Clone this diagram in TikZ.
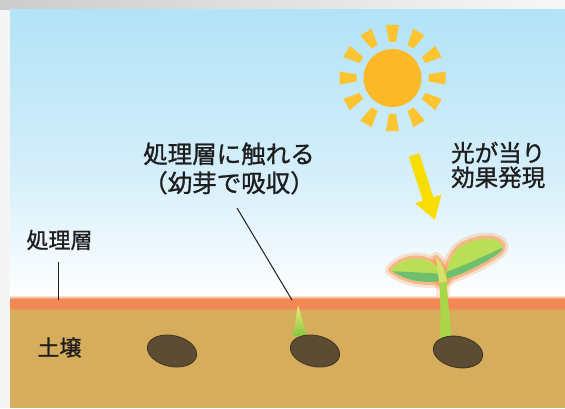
\documentclass[tikz,border=0pt]{standalone}
\usepackage{fontspec}
\newfontfamily\jp[FakeBold=1.1]{Noto Sans CJK JP}
\usetikzlibrary{arrows.meta}

\definecolor{sky}{RGB}{178,227,246}
\definecolor{skymid}{RGB}{214,239,250}
\definecolor{layer}{RGB}{242,136,84}
\definecolor{soil}{RGB}{214,173,92}
\definecolor{sunbody}{RGB}{251,185,40}
\definecolor{sunray}{RGB}{252,196,48}
\definecolor{arrowyellow}{RGB}{248,221,0}
\definecolor{seedbrown}{RGB}{92,76,52}
\definecolor{seededge}{RGB}{66,52,34}
\definecolor{leaflight}{RGB}{186,222,86}
\definecolor{leafdark}{RGB}{110,192,110}
\definecolor{stemgreen}{RGB}{170,215,72}
\definecolor{budgreen}{RGB}{214,226,110}
\definecolor{glow}{RGB}{250,150,80}
\definecolor{sprouttip}{RGB}{246,236,125}
\definecolor{sproutbase}{RGB}{132,200,62}
\definecolor{ink}{RGB}{30,30,30}

\tikzset{
  txt/.style={font=\jp, text=ink, inner sep=0pt},
  leader/.style={draw=ink, line width=1pt},
  seed/.style={fill=seedbrown, draw=seededge, line width=0.8pt},
  haloA/.style={draw=glow, line width=12pt, opacity=0.25, line join=round},
  haloB/.style={draw=glow, line width=6pt, opacity=0.55, line join=round},
  leftleaf/.style={insert path={(443,131) .. controls (438,151) and (407,157) .. (391,138)
      .. controls (405,127) and (425,124) .. (443,127.5) -- cycle}},
  rightleaf/.style={insert path={(447,129) .. controls (446,146) and (455,161) .. (467,165)
      .. controls (478,170) and (494,172) .. (501,165)
      .. controls (505,161) and (501,156) .. (496,153)
      .. controls (485,145) and (465,135) .. (447,129) -- cycle}},
  bud/.style={insert path={(439,125) .. controls (438,136) .. (436,150)
      .. controls (442,144) .. (447,127) -- cycle}},
}

\begin{document}
\begin{tikzpicture}[x=1pt,y=1pt]
\useasboundingbox (0,0) rectangle (565,408);

% paper margin
\fill[black!4] (0,0) rectangle (565,408);
\shade[left color=black!20, right color=black!3] (0,398) rectangle (565,408);

% sky
\shade[top color=sky, bottom color=skymid] (10,230) rectangle (565,398);
\shade[top color=skymid, bottom color=white] (10,110) rectangle (565,230.5);

% treated layer and soil
\shade[top color=white, bottom color=layer] (10,109) rectangle (565,113);
\fill[layer] (10,100) rectangle (565,109.5);
\fill[soil] (10,0) rectangle (565,98);
\shade[top color=layer, bottom color=soil] (10,97.5) rectangle (565,100.5);

% sun
\coordinate (sun) at (392.5,330);
\fill[sunbody] (sun) circle[radius=29];
\begin{scope}[shift={(sun)}]
  \foreach \a in {0,30,...,330}
    \fill[sunray, rotate=\a] (36,-3.5) -- (53,-6.5) -- (53,6.5) -- (36,3.5) -- cycle;
\end{scope}

% sunlight arrow
\coordinate (beamfrom) at (414,253);
\coordinate (beamto) at (435,188);
\draw[arrowyellow, line width=11pt, -{Triangle[width=26pt,length=22pt]}] (beamfrom) -- (beamto);

% seedling: glow
\path[haloA, leftleaf];
\path[haloA, rightleaf];
\path[haloA, bud];
\draw[glow, line width=14pt, opacity=0.22] (443,112) -- (443,132);
\path[haloB, leftleaf];
\path[haloB, rightleaf];
\path[haloB, bud];

% seedling: stem
\fill[stemgreen] (439.5,68) .. controls (442,93) and (439,113) .. (439.5,138)
  -- (446.5,138) .. controls (446.5,113) and (451,88) .. (451,68) -- cycle;

% seedling: leaves
\fill[leaflight, leftleaf];
\begin{scope}
  \clip[leftleaf];
  \fill[leafdark] (388,137) .. controls (410,136) and (428,135) .. (446,134)
    -- (446,120) -- (388,120) -- cycle;
\end{scope}
\fill[leaflight, rightleaf];
\begin{scope}
  \clip[rightleaf];
  \fill[leafdark] (444,135) .. controls (465,143) and (485,152) .. (506,162)
    -- (506,120) -- (444,120) -- cycle;
\end{scope}
\fill[budgreen, bud];

% sprout of the middle seed
\shade[top color=sprouttip, bottom color=sproutbase]
  (293,72) .. controls (295,85) .. (298,103) .. controls (302,88) .. (307,72) -- cycle;

% seeds
\draw[seed, rotate around={-12:(172,57)}] (172,57) ellipse[x radius=25, y radius=15.5];
\draw[seed, rotate around={-12:(315,57)}] (315,57) ellipse[x radius=25, y radius=15.5];
\draw[seed, rotate around={-11:(458,56)}] (458,56) ellipse[x radius=25, y radius=15.5];

% labels
\node[txt, align=center, font={\jp\fontsize{24.5}{29}\selectfont}] (touch) at (229,239.5)
  {処理層に触れる\\（幼芽で吸収）};
\node[txt, align=left, anchor=west, font={\jp\fontsize{23.5}{24.5}\selectfont}] (effect) at (451,243)
  {光が当り\\効果発現};
\node[txt, font={\jp\fontsize{22}{26}\selectfont}] (layerlbl) at (59.5,168) {処理層};
\node[txt, font={\jp\fontsize{22}{26}\selectfont}] (soillbl) at (59.5,60.5) {土壌};

% leader lines
\coordinate (touchfoot) at (237,200);
\coordinate (sprouttop) at (292,108);
\draw[leader] (touchfoot) -- (sprouttop);
\coordinate (layerfoot) at (58,146);
\coordinate (layertop) at (58,108);
\draw[leader] (layerfoot) -- (layertop);
\end{tikzpicture}
\end{document}
